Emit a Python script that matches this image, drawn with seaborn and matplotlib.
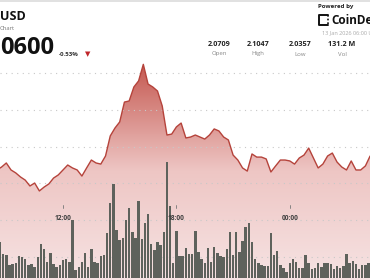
import numpy as np
import pandas as pd
import matplotlib
matplotlib.use("Agg")
import matplotlib.pyplot as plt
import seaborn as sns
from matplotlib.patches import Polygon
from matplotlib.colors import LinearSegmentedColormap
from matplotlib.lines import Line2D

sns.set_theme(style="white")
plt.rcParams['font.family'] = ['Open Sans', 'DejaVu Sans']

# ---------------- data ----------------
# price, 15-minute steps, first point at 08:30 (hours relative to 12:00)
price_start_hour = -3.5
price = [2.0473, 2.0489, 2.0511, 2.0473, 2.0457, 2.0435, 2.0418, 2.0386, 2.0402, 2.0359,
         2.0380, 2.0397, 2.0429, 2.0446, 2.0473, 2.0500, 2.0484, 2.0473, 2.0440, 2.0484,
         2.0527, 2.0511, 2.0505, 2.0549, 2.0658, 2.0701, 2.0734, 2.0842, 2.0848, 2.0924,
         2.0957, 2.1047, 2.0940, 2.0924, 2.0902, 2.0821, 2.0663, 2.0668, 2.0707, 2.0728,
         2.0647, 2.0652, 2.0663, 2.0652, 2.0641, 2.0663, 2.0696, 2.0685, 2.0652, 2.0636,
         2.0554, 2.0527, 2.0484, 2.0467, 2.0560, 2.0543, 2.0543, 2.0533, 2.0462, 2.0495,
         2.0527, 2.0527, 2.0522, 2.0505, 2.0538, 2.0554, 2.0592, 2.0538, 2.0484, 2.0505,
         2.0549, 2.0565, 2.0516, 2.0489, 2.0473, 2.0522, 2.0473, 2.0473, 2.0495, 2.0549]

# volume (millions), 10-minute bars, first bar at 08:40
vol_start_hour = -20 / 6
volume = [1.80, 1.20, 1.15, 0.65, 0.70, 0.75, 1.10, 1.05, 0.95, 0.65,
          0.70, 0.55, 1.05, 1.70, 1.45, 0.80, 1.25, 0.70, 0.55, 0.65,
          0.90, 0.95, 0.80, 2.90, 0.40, 0.55, 0.80, 1.25, 0.55, 1.45,
          0.80, 0.75, 1.10, 1.15, 2.25, 3.75, 4.70, 2.40, 1.90, 2.00,
          2.90, 3.50, 2.30, 2.00, 3.85, 1.95, 2.75, 3.20, 1.70, 1.40,
          1.80, 1.65, 2.30, 5.80, 3.60, 0.75, 2.35, 1.10, 1.10, 1.50,
          1.20, 1.20, 2.35, 1.30, 0.95, 0.75, 1.50, 0.80, 1.55, 1.25, 1.10,
          1.05, 1.45, 2.30, 1.15, 2.30, 1.30, 1.85, 2.55, 2.75, 1.80,
          0.95, 0.75, 0.65, 0.60, 0.60, 2.25, 1.15, 1.35, 0.65, 0.50,
          0.30, 0.75, 0.95, 0.80, 0.50, 0.50, 1.15, 0.75, 0.45, 0.50,
          0.75, 0.55, 0.75, 0.75, 0.70, 0.45, 0.60,
          0.50, 0.60, 1.20, 0.75, 0.85, 0.70, 0.45,
          0.65, 0.65, 0.75]

time_labels = ["12:00", "18:00", "00:00", "06:00"]
time_label_hours = [0, 6, 12, 18]
grid_prices = [2.10, 2.08, 2.06, 2.04, 2.02, 2.00]

pair_label = "USD"
sub_label = "Chart"
last_price = "0600"
change_pct = "-0.53%"
stat_values = ["2.0709", "2.1047", "2.0357", "131.2 M", "2.0600"]
stat_labels = ["Open", "High", "Low", "Vol", ""]
date_text = "13 Jan 2026 06:00 UTC"

# ---------------- layout ----------------
W, H = 370, 280
fig = plt.figure(figsize=(W / 100, H / 100), dpi=100)
fig.patch.set_facecolor("white")

px_per_hour = 18.9
x0_pix = 63.0
xlim = (-x0_pix / px_per_hour, (W - x0_pix) / px_per_hour)

# price axis: 2.10 at pixel 73, 0.02 per 36.8 px
p_per_px = 0.02 / 36.8
ylim_p = (2.10 - (H - 73) * p_per_px, 2.10 + 73 * p_per_px)

ax = fig.add_axes([0, 0, 1, 1])
ax.set_facecolor("white")

hours_p = price_start_hour + 0.25 * np.arange(len(price))
dfp = pd.DataFrame({"hour": hours_p, "price": price})

# gradient area under the line
verts = [(hours_p[0], ylim_p[0])] + list(zip(hours_p, price)) + [(hours_p[-1], ylim_p[0])]
poly = Polygon(verts, closed=True, facecolor="none", edgecolor="none")
ax.add_patch(poly)
cmap = LinearSegmentedColormap.from_list("g", ["#f6e3e3", "#eec6c4", "#c4564e"])
grad = np.linspace(0, 1, 256).reshape(-1, 1)
top_fill = 2.10 + 11 * p_per_px
im = ax.imshow(grad, extent=[hours_p[0], hours_p[-1], ylim_p[0], top_fill],
               origin="lower", aspect="auto", cmap=cmap, zorder=1)
im.set_clip_path(poly)

sns.lineplot(data=dfp, x="hour", y="price", ax=ax, color="#b5433b",
             linewidth=1.0, zorder=4)

ax.set_xlim(*xlim)
ax.set_ylim(*ylim_p)
ax.set_yticks(grid_prices)
ax.set_xticks([])
ax.grid(axis="y", color="#c8c8c8", linestyle=(0, (1, 4)), linewidth=0.8, zorder=2)
ax.set_axisbelow(False)
ax.tick_params(left=False, bottom=False, labelleft=False, labelbottom=False)
for s in ax.spines.values():
    s.set_visible(False)
ax.set_xlabel("")
ax.set_ylabel("")

# volume axis
axv = fig.add_axes([0, 0, 1, 1])
axv.patch.set_alpha(0)
hours_v = vol_start_hour + np.arange(len(volume)) / 6
dfv = pd.DataFrame({"hour": np.round(hours_v, 4), "vol": volume})
sns.barplot(data=dfv, x="hour", y="vol", native_scale=True, ax=axv,
            color="#5e625c", saturation=1, width=0.78, errorbar=None, linewidth=0)
axv.set_xlim(*xlim)
axv.set_ylim(-0.1, 13.9)
axv.axis("off")


def T(px, py, s, **kw):
    fig.text(px / W, 1 - py / H, s, **kw)


# time labels and tiny ticks
for lab, h in zip(time_labels, time_label_hours):
    xp = x0_pix + px_per_hour * h
    T(xp, 218, lab, ha="center", va="center", fontsize=4.8, fontweight="bold",
      color="#3d3d3d")
    fig.add_artist(Line2D([xp / W, xp / W], [1 - 205 / H, 1 - 207.5 / H],
                          color="#777777", linewidth=0.6))

# header
T(0, 17, pair_label, ha="left", va="center", fontsize=9, fontweight="bold", color="#111111")
T(0, 28, sub_label, ha="left", va="center", fontsize=4.2, color="#777777")
T(0, 48, last_price, ha="left", va="center", fontsize=17, fontweight="bold", color="#111111")
T(59, 54, change_pct, ha="left", va="center", fontsize=4.4, fontweight="bold", color="#333333")
T(88, 54, "\u25BC", ha="center", va="center", fontsize=5, color="#c0262a",
  family=["DejaVu Sans"])

stat_x = [219, 258, 300, 342, 386]
for xs, v, l in zip(stat_x, stat_values, stat_labels):
    T(xs, 44, v, ha="center", va="center", fontsize=5.2, fontweight="bold", color="#222222")
    if l:
        T(xs, 54, l, ha="center", va="center", fontsize=4.3, color="#888888")

T(318, 6.5, "Powered by", ha="left", va="center", fontsize=4.4, fontweight="bold",
  color="#222222")
T(331, 20, "CoinDesk", ha="left", va="center", fontsize=8.5, fontweight="bold",
  color="#111111")
T(322, 33, date_text, ha="left", va="center", fontsize=4.0, color="#aaaaaa")

# CoinDesk mark (small bracket)
bx0, by0, bx1, by1 = 319, 15, 328, 25
fig.add_artist(Line2D([bx1 / W, bx0 / W, bx0 / W, bx1 / W],
                      [1 - by0 / H, 1 - by0 / H, 1 - by1 / H, 1 - by1 / H],
                      color="#111111", linewidth=1.4))
fig.add_artist(Line2D([bx1 / W, bx1 / W], [1 - by0 / H, 1 - by1 / H],
                      color="#111111", linewidth=1.2, linestyle=(0, (1, 1.2))))

# thin top border
fig.add_artist(Line2D([0, 1], [1 - 0.8 / H, 1 - 0.8 / H], color="#dcdcdc", linewidth=1.2))

fig.savefig("out.png", dpi=100)
